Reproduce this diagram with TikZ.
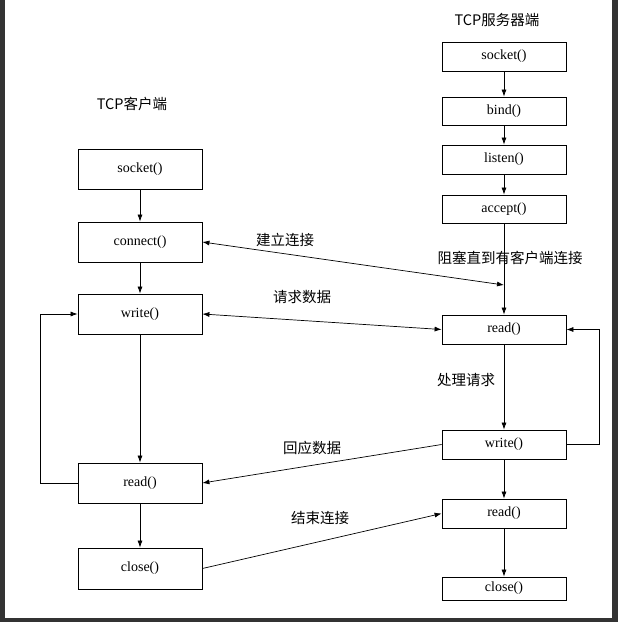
\documentclass[tikz,border=0pt]{standalone}
\usepackage{fontspec}
\setmainfont{Liberation Serif}
\newfontfamily\cjk{Noto Sans CJK SC}
\usetikzlibrary{arrows.meta}
\begin{document}
\begin{tikzpicture}[x=1pt,y=-1pt,
  box/.style={draw,line width=0.8pt,minimum width=124pt,inner sep=0pt,font=\fontsize{14}{14}\selectfont},
  arr/.style={-{Latex[length=7pt,width=5pt]},line width=0.7pt},
  darr/.style={{Latex[length=7pt,width=5pt]}-{Latex[length=7pt,width=5pt]},line width=0.7pt},
  lab/.style={font=\cjk\fontsize{14.5}{14.5}\selectfont,inner sep=0pt}]
\useasboundingbox (0,0) rectangle (618,622);
\fill[white] (0,0) rectangle (618,622);
\fill[black!80] (0,0) rectangle (5,622);
\fill[black!80] (612,0) rectangle (618,622);
\fill[black!80] (0,618) rectangle (618,622);
% client
\node[lab] (tc) at (132,104) {TCP客户端};
\node[box,minimum height=40pt] (cs) at (140,169) {socket()};
\node[box,minimum height=40pt] (cc) at (140,242) {connect()};
\node[box,minimum height=40pt] (cw) at (140,314) {write()};
\node[box,minimum height=40pt] (cr) at (140,483) {read()};
\node[box,minimum height=41pt] (cl) at (140,568.5) {close()};
% server
\node[lab] (ts) at (497,20) {TCP服务器端};
\node[box,minimum height=29pt] (ss) at (504,56.5) {socket()};
\node[box,minimum height=28pt] (sb) at (504,111) {bind()};
\node[box,minimum height=29pt] (sl) at (504,159.5) {listen()};
\node[box,minimum height=28pt] (sa) at (504,209) {accept()};
\node[box,minimum height=29pt] (sr) at (504,329.5) {read()};
\node[box,minimum height=29pt] (sw) at (504,444.5) {write()};
\node[box,minimum height=29pt] (sr2) at (504,513.5) {read()};
\node[box,minimum height=23pt] (sc) at (504,588.5) {close()};
\coordinate (blk) at (504,285);
% labels
\node[lab] (l1) at (510,258) {阻塞直到有客户端连接};
\node[lab] (l2) at (285,240) {建立连接};
\node[lab] (l3) at (302,297) {请求数据};
\node[lab] (l4) at (466,380) {处理请求};
\node[lab] (l5) at (312,448) {回应数据};
\node[lab] (l6) at (320,518) {结束连接};
% vertical arrows
\draw[arr] (cs) -- (cc);
\draw[arr] (cc) -- (cw);
\draw[arr] (cw) -- (cr);
\draw[arr] (cr) -- (cl);
\draw[arr] (ss) -- (sb);
\draw[arr] (sb) -- (sl);
\draw[arr] (sl) -- (sa);
\draw[arr] (sa) -- (sr);
\draw[arr] (sr) -- (sw);
\draw[arr] (sw) -- (sr2);
\draw[arr] (sr2) -- (sc);
% loops
\draw[arr] (cr.west) -- (40,483) -- (40,314) -- (cw.west);
\draw[arr] (sw.east) -- (599,444.5) -- (599,329.5) -- (sr.east);
% cross arrows
\draw[darr] (cc.east) -- (blk);
\draw[darr] (cw.east) -- (sr.west);
\draw[arr] (sw.west) -- (cr.east);
\draw[arr] (cl.east) -- (sr2.west);
\end{tikzpicture}
\end{document}
